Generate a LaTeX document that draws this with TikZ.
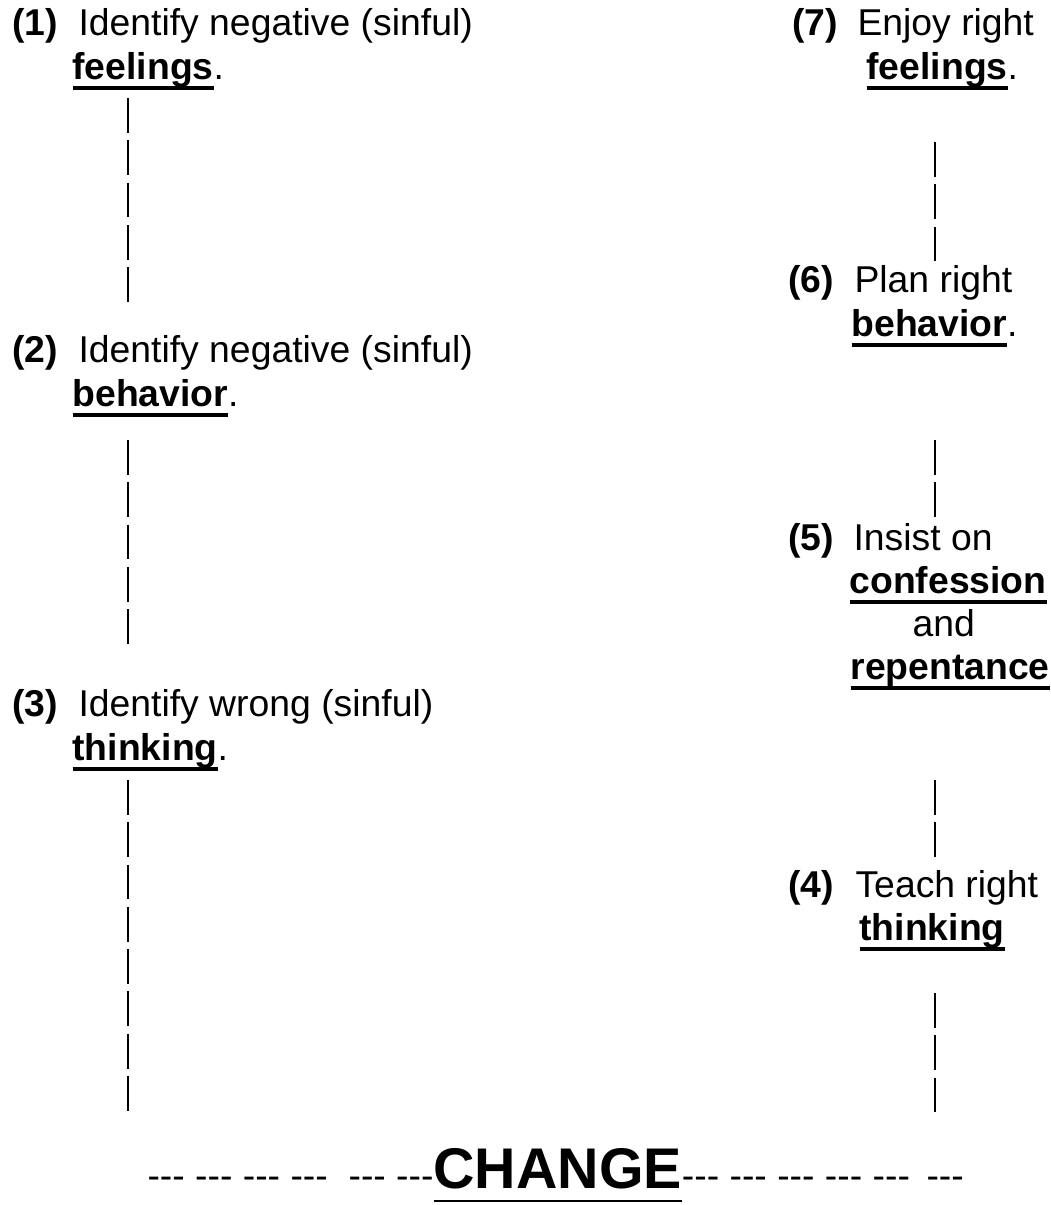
\documentclass[tikz,border=0pt]{standalone}
\usepackage{fontspec}
\setmainfont{Liberation Sans}
\newcommand{\wordline}[1]{\setbox0\hbox{#1}\rlap{\rule[-4.1pt]{\wd0}{1.4pt}}\box0}
\newcommand{\thinline}[1]{\setbox0\hbox{#1}\rlap{\rule[-5.2pt]{\wd0}{0.8pt}}\box0}
\newcommand{\dsh}{-{}-{}-}
\begin{document}
\begin{tikzpicture}[x=0.375pt,y=-0.375pt,
	txt/.style={anchor=base west,inner sep=0pt,font=\fontsize{14pt}{16pt}\selectfont},
	num/.style={txt,font=\fontsize{14pt}{16pt}\selectfont\bfseries},
	pipe/.style={line width=1pt,dash pattern=on 13.1pt off 2.75pt}]

	\useasboundingbox (0,0) rectangle (1051,1205);

	% left column
	\node[num] (n1) at (12,35) {(1)};
	\node[txt] (t1) at (78,35) {Identify negative (sinful)};
	\node[txt] (w1) at (72,79) {\wordline{\textbf{feelings}}.};
	\node[num] (n2) at (12,362) {(2)};
	\node[txt] (t2) at (78,362) {Identify negative (sinful)};
	\node[txt] (w2) at (72,406) {\wordline{\textbf{behavior}}.};
	\node[num] (n3) at (12,716) {(3)};
	\node[txt] (t3) at (78,716) {Identify wrong (sinful)};
	\node[txt] (w3) at (72,760) {\wordline{\textbf{thinking}}.};

	% right column
	\node[num] (n7) at (792,35) {(7)};
	\node[txt] (t7) at (857,35) {Enjoy right};
	\node[txt] (w7) at (866,79) {\wordline{\textbf{feelings}}.};
	\node[num] (n6) at (788,292) {(6)};
	\node[txt] (t6) at (854,292) {Plan right};
	\node[txt] (w6) at (851,336) {\wordline{\textbf{behavior}}.};
	\node[num] (n5) at (788,550) {(5)};
	\node[txt] (t5) at (853,550) {Insist on};
	\node[txt] (w5) at (849,593) {\wordline{\textbf{confession}}};
	\node[txt] (a5) at (912,636) {and};
	\node[txt] (r5) at (850,679) {\wordline{\textbf{repentance}}};
	\node[num] (n4) at (788,897) {(4)};
	\node[txt] (t4) at (855,897) {Teach right};
	\node[txt] (w4) at (859,940) {\wordline{\textbf{thinking}}};

	\node[txt] (chg) at (147,1188) {\dsh{} \dsh{} \dsh{} \dsh{}~~\dsh{} \dsh{\fontsize{21.5pt}{24pt}\selectfont\bfseries\thinline{CHANGE}}\dsh{} \dsh{} \dsh{} \dsh{} \dsh{}~\,\dsh};

	% pipe runs
	\coordinate (la1) at (128,98);  \coordinate (lb1) at (128,302);
	\coordinate (la2) at (128,440); \coordinate (lb2) at (128,644);
	\coordinate (la3) at (128,780); \coordinate (lb3) at (128,1113);
	\coordinate (ra1) at (935,142); \coordinate (rb1) at (935,262);
	\coordinate (ra2) at (935,440); \coordinate (rb2) at (935,517);
	\coordinate (ra3) at (935,780); \coordinate (rb3) at (935,857);
	\coordinate (ra4) at (935,993); \coordinate (rb4) at (935,1113);
	\foreach \i in {1,2,3} \draw[pipe] (la\i) -- (lb\i);
	\foreach \i in {1,2,3,4} \draw[pipe] (ra\i) -- (rb\i);

\end{tikzpicture}
\end{document}
